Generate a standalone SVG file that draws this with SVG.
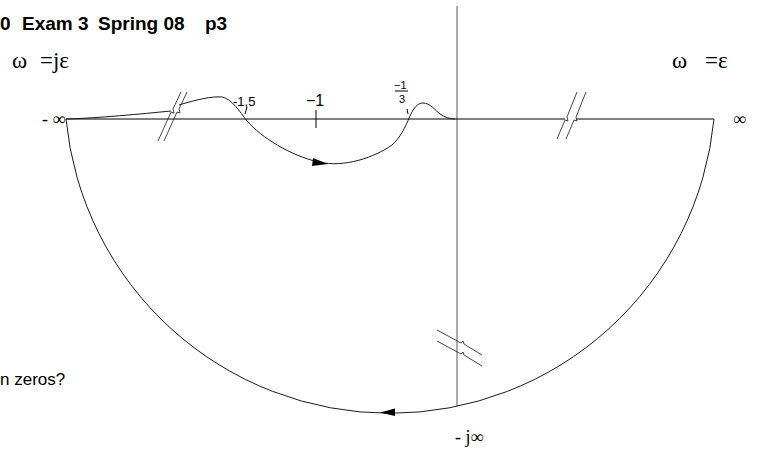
<svg xmlns="http://www.w3.org/2000/svg" width="759" height="454" viewBox="0 0 759 454">
<style>
.ln{fill:none;stroke:#1a1a1a;stroke-width:1}
.ax{fill:none;stroke:#000;stroke-width:1}
.vax{fill:none;stroke:#999;stroke-width:1.6}
.brk{fill:none;stroke:#333;stroke-width:0.9}
.sans{font-family:"Liberation Sans",Arial,sans-serif;fill:#000}
.serif{font-family:"Liberation Serif","Times New Roman",serif;fill:#000}
.title{font-weight:bold;font-size:19px}
.arw{fill:#000;stroke:none}
</style>
<rect width="759" height="454" fill="#fff"/>
<g id="title" class="sans title">
<text x="0" y="30">0</text>
<text x="22" y="30">Exam 3</text>
<text x="98" y="30">Spring 08</text>
<text x="205" y="30">p3</text>
</g>
<g id="axes">
<line class="vax" x1="457" y1="6" x2="457" y2="406"/>
<path class="ax" d="M66,119 H565 M576,119 H714"/>
<path class="ax" d="M316,110 V128 M247,107 L245,114 M407,109 L408,114"/>
</g>
<g id="connectors">
<path class="ln" d="M66,119 A325.5,325.5 0 0 0 714,119"/>
<path class="ln" d="M66,119 C100,118 140,114 171,111"/>
<path class="ln" d="M179,105 C195,100 212,96 222,97 C232,99 240,112 247,121 C262,138 290,155 318,162 C345,168 375,157 392,145 C400,138 405,128 410,116 C414,107 418,103 423,103 C430,103 435,110 440,114 C445,117 449,119 455,119"/>
<polygon class="arw" points="313,158 312,166 328,164"/>
<polygon class="arw" points="380,412.5 395,408.5 395,416"/>
</g>
<g id="breaks" class="brk">
<path d="M158,141 L171,112 L174,113 L173,109 L181,92"/>
<path d="M164,141 L177,112 L180,113 L179,109 L187,92"/>
<path d="M557,139 L565,120 L568,121 L567,117 L577,92"/>
<path d="M566,139 L574,120 L577,121 L576,117 L586,92"/>
<path d="M437,330 L461,343 L463,341 L464,344 L482,355"/>
<path d="M437,341 L461,354 L463,352 L464,355 L482,366"/>
</g>
<g id="labels">
<text class="serif" x="12" y="68" font-size="23">ω</text>
<text class="serif" x="40" y="68" font-size="23">=jε</text>
<text class="serif" x="672" y="68" font-size="23">ω</text>
<text class="serif" x="705" y="68" font-size="23">=ε</text>
<text class="serif" x="42" y="125" font-size="18" xml:space="preserve">- ∞</text>
<text class="serif" x="733" y="125" font-size="18">∞</text>
<text class="serif" x="455" y="443" font-size="18" xml:space="preserve">- j∞</text>
<text class="sans" x="233" y="106" font-size="13">-1,5</text>
<text class="sans" x="306" y="106" font-size="16">−1</text>
<text class="sans" x="394" y="89" font-size="11">−1</text>
<line class="ax" x1="395" y1="91" x2="408" y2="91"/>
<text class="sans" x="399" y="103" font-size="11">3</text>
<text class="sans" x="0" y="385" font-size="17">n zeros?</text>
</g>
</svg>
